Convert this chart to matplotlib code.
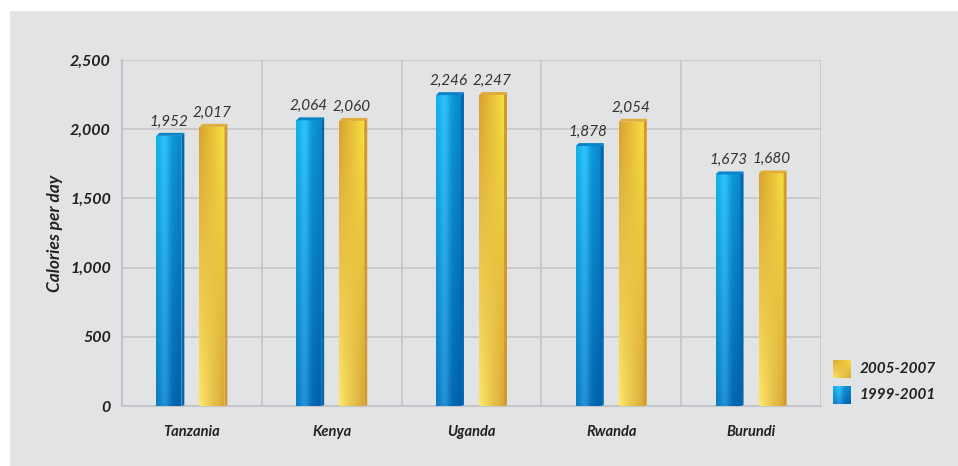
import numpy as np
import matplotlib.pyplot as plt
from matplotlib.patches import Rectangle, Polygon
from matplotlib.ticker import FuncFormatter

countries = ['Tanzania', 'Kenya', 'Uganda', 'Rwanda', 'Burundi']
cal_1999_2001 = [1952, 2064, 2246, 1878, 1673]
cal_2005_2007 = [2017, 2060, 2247, 2054, 1680]
series_labels = ['1999-2001', '2005-2007']

W, H = 958, 466
fig = plt.figure(figsize=(W / 100, H / 100), dpi=100)
fig.patch.set_facecolor('white')
panel_color = '#e2e3e5'
fig.patches.append(Rectangle((10 / W, 0), 1 - 10 / W, (H - 11) / H,
                             transform=fig.transFigure, facecolor=panel_color,
                             edgecolor='none', zorder=-10))

ax = fig.add_axes([122 / W, 60 / H, (821 - 122) / W, (406 - 60) / H])
ax.set_facecolor(panel_color)

font = ['Lato', 'DejaVu Sans']
grid_c = '#c4c5c8'
for y in range(500, 2501, 500):
    ax.axhline(y, color=grid_c, lw=1.2, zorder=1)
for x in range(1, len(countries) + 1):
    ax.axvline(x, color=grid_c, lw=1.2, zorder=1)
for s in ['top', 'right']:
    ax.spines[s].set_visible(False)
for s in ['left', 'bottom']:
    ax.spines[s].set_color(grid_c)
    ax.spines[s].set_linewidth(1.5)


def gradient(c_top_l, c_top_r, c_bot_l, c_bot_r, n=64):
    # bilinear blend across the bar face
    u = np.linspace(0, 1, n)[None, :, None]
    v = np.linspace(0, 1, n)[:, None, None]
    tl, tr, bl, br = (np.array(c)[None, None, :] for c in (c_top_l, c_top_r, c_bot_l, c_bot_r))
    top = tl * (1 - u) + tr * u
    bot = bl * (1 - u) + br * u
    return top * (1 - v) + bot * v


def hexrgb(h):
    h = h.lstrip('#')
    return [int(h[i:i + 2], 16) / 255 for i in (0, 2, 4)]


blue_img = gradient(hexrgb('#12b0e8'), hexrgb('#0a88cc'), hexrgb('#0a7cc4'), hexrgb('#0060a8'))
blue_mid = np.linspace(0, 1, 64)[None, :, None]
blue_img = blue_img + 0.12 * np.exp(-((blue_mid - 0.35) / 0.2) ** 2)
blue_img = np.clip(blue_img, 0, 1)
gold_img = gradient(hexrgb('#d8a030'), hexrgb('#f8e040'), hexrgb('#fde868'), hexrgb('#d8a838'))

styles = {
    0: dict(img=blue_img, side='#0068b0', top='#0a84c8'),
    1: dict(img=gold_img, side='#d49a28', top='#e0ac3a'),
}

bar_w = 0.2
offsets = [-0.154, 0.154]
dx = 3 / 140
dy = 3 * 2500 / 346

for si, vals in enumerate([cal_1999_2001, cal_2005_2007]):
    st = styles[si]
    for i, v in enumerate(vals):
        x0 = i + 0.5 + offsets[si] - bar_w / 2
        x1 = x0 + bar_w - dx
        rect = Rectangle((x0, 0), x1 - x0, v, facecolor='none', edgecolor='none')
        ax.add_patch(rect)
        im = ax.imshow(st['img'], extent=[x0, x1, 0, v], aspect='auto',
                       origin='upper', zorder=3, interpolation='bilinear')
        im.set_clip_path(rect)
        ax.add_patch(Polygon([(x1, 0), (x1 + dx, dy * 0.3), (x1 + dx, v + dy), (x1, v)],
                             closed=True, facecolor=st['side'], edgecolor='none', zorder=3))
        ax.add_patch(Polygon([(x0, v), (x0 + dx, v + dy), (x1 + dx, v + dy), (x1, v)],
                             closed=True, facecolor=st['top'], edgecolor='none', zorder=3))
        ax.text((x0 + x1) / 2, v + dy + 30, f'{v:,}', ha='center', va='bottom',
                fontsize=11, style='italic', color='#333333', family=font, zorder=4)

ax.set_xlim(0, len(countries))
ax.set_ylim(0, 2500)
ax.set_xticks(np.arange(len(countries)) + 0.5)
ax.set_xticklabels(countries, fontsize=10.5, fontweight='bold', style='italic',
                   color='#222222', family=font)
ax.tick_params(axis='x', length=0, pad=14)
ax.set_yticks(range(0, 2501, 500))
ax.yaxis.set_major_formatter(FuncFormatter(lambda y, _: f'{int(y):,}'))
ax.tick_params(axis='y', length=0, pad=8)
for lbl in ax.get_yticklabels():
    lbl.set_fontsize(11.5)
    lbl.set_fontweight('bold')
    lbl.set_style('italic')
    lbl.set_color('#222222')
    lbl.set_family(font)
ax.set_ylabel('Calories per day', fontsize=12.5, fontweight='bold', style='italic',
              color='#222222', family=font, labelpad=5)

# legend squares with the same bar shading
for img, name, ytop in [(gold_img, series_labels[1], 360),
                        (blue_img, series_labels[0], 386)]:
    lax = fig.add_axes([833 / W, (H - ytop - 18) / H, 18 / W, 18 / H])
    lax.imshow(img, aspect='auto', interpolation='bilinear')
    lax.axis('off')
    fig.text(860 / W, (H - ytop - 9) / H, name, ha='left', va='center',
             fontsize=11, fontweight='bold', style='italic', color='#222222', family=font)

fig.savefig('out.png', dpi=100, facecolor=fig.get_facecolor())
